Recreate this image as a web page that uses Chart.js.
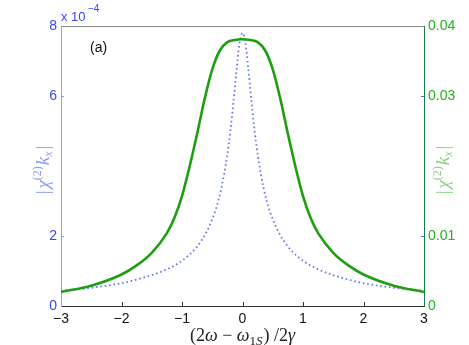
<!DOCTYPE html>
<html>
<head>
<meta charset="utf-8">
<script src="https://cdn.jsdelivr.net/npm/chart.js@4.4.0/dist/chart.umd.min.js"></script>
<style>
    html, body { margin: 0; padding: 0; background: #fff; }
    #wrap { width: 469px; height: 345px; }
</style>
</head>
<body>
<div id="wrap"><canvas id="chiChart" width="469" height="345"></canvas></div>
<script>
const xTicks = [-3, -2, -1, 0, 1, 2, 3];
const leftTicks = [0, 2, 6, 8];
const rightTicks = [0, 0.01, 0.03, 0.04];

// solid green curve, right axis
const detuningGreen = [-3, -2.5, -2, -1.75, -1.5, -1.25, -1.125, -1, -0.875, -0.75, -0.625, -0.5, -0.375, -0.25, -0.125, 0,
                       0.125, 0.25, 0.375, 0.5, 0.625, 0.75, 0.875, 1, 1.125, 1.25, 1.5, 1.75, 2, 2.5, 3];
const chiGreen = [0.0020, 0.0029, 0.0045, 0.0058, 0.0076, 0.0104, 0.0126, 0.0157, 0.0199, 0.0246, 0.0296, 0.0338, 0.0365, 0.0377, 0.0380, 0.0381,
                  0.0380, 0.0377, 0.0365, 0.0338, 0.0296, 0.0246, 0.0199, 0.0157, 0.0126, 0.0104, 0.0076, 0.0058, 0.0045, 0.0029, 0.0020];

// dotted blue curve, left axis (units of 1e-4)
const detuningBlue = [-3, -2.5, -2, -1.7, -1.37, -1.1, -0.9, -0.75, -0.6, -0.5, -0.4, -0.3, -0.25, -0.2, -0.15, -0.1, -0.05, 0,
                      0.05, 0.1, 0.15, 0.2, 0.25, 0.3, 0.4, 0.5, 0.6, 0.75, 0.9, 1.1, 1.37, 1.7, 2, 2.5, 3];
const chiBlue = [0.44, 0.52, 0.65, 0.78, 0.96, 1.18, 1.43, 1.70, 2.10, 2.48, 3.00, 3.80, 4.34, 5.00, 5.82, 6.70, 7.50, 7.80,
                 7.50, 6.70, 5.82, 5.00, 4.34, 3.80, 3.00, 2.48, 2.10, 1.70, 1.43, 1.18, 0.96, 0.78, 0.65, 0.52, 0.44];

const BLUE_TXT = '#3a46f0';
const BLUE_AXIS = '#8c9cff';
const GREEN_TXT = '#28b01e';
const GREEN_LINE = '#1f9e12';
const SANS = '"Liberation Sans", Arial, sans-serif';
const SERIF = '"Liberation Serif", "DejaVu Serif", serif';

function toPoints(xs, ys) {
    return xs.map((x, i) => ({ x: x, y: ys[i] }));
}

function drawRich(ctx, parts, cx, cy, angle) {
    ctx.save();
    ctx.translate(cx, cy);
    ctx.rotate(angle);
    let total = 0;
    parts.forEach(p => {
        ctx.font = p.font;
        p.w = ctx.measureText(p.t).width + (p.gap || 0);
        total += p.w;
    });
    let x = -total / 2;
    ctx.textAlign = 'left';
    ctx.textBaseline = 'alphabetic';
    parts.forEach(p => {
        ctx.font = p.font;
        ctx.fillStyle = p.color;
        ctx.fillText(p.t, x, p.dy || 0);
        x += p.w;
    });
    ctx.restore();
}

function chiLabel(color) {
    return [
        { t: '|', font: `19px ${SERIF}`, color, gap: 2 },
        { t: 'χ', font: `italic 19px ${SERIF}`, color },
        { t: '(2)', font: `12px ${SERIF}`, color, dy: -8, gap: 1 },
        { t: 'k', font: `italic 19px ${SERIF}`, color },
        { t: 'x', font: `italic 12px ${SERIF}`, color, dy: 3, gap: 2 },
        { t: '|', font: `19px ${SERIF}`, color }
    ];
}

const extrasPlugin = {
    id: 'extras',
    afterDraw(chart) {
        const { ctx, chartArea: a, scales } = chart;
        ctx.save();

        // top frame line
        ctx.strokeStyle = '#8a8a8a';
        ctx.lineWidth = 1;
        ctx.beginPath();
        ctx.moveTo(a.left, a.top + 0.5);
        ctx.lineTo(a.right, a.top + 0.5);
        ctx.stroke();

        // inward tick marks
        ctx.strokeStyle = '#333';
        xTicks.slice(1, -1).forEach(v => {
            const px = Math.round(scales.x.getPixelForValue(v)) + 0.5;
            ctx.beginPath();
            ctx.moveTo(px, a.bottom);
            ctx.lineTo(px, a.bottom - 4);
            ctx.stroke();
        });
        ctx.strokeStyle = BLUE_AXIS;
        leftTicks.slice(1, -1).forEach(v => {
            const py = Math.round(scales.y.getPixelForValue(v)) + 0.5;
            ctx.beginPath();
            ctx.moveTo(a.left, py);
            ctx.lineTo(a.left + 3, py);
            ctx.stroke();
        });
        ctx.strokeStyle = '#4a6ae0';
        rightTicks.slice(1, -1).forEach(v => {
            const py = Math.round(scales.y2.getPixelForValue(v)) + 0.5;
            ctx.beginPath();
            ctx.moveTo(a.right, py);
            ctx.lineTo(a.right - 3, py);
            ctx.stroke();
        });

        // axis titles
        const midY = (a.top + a.bottom) / 2 + 4;
        drawRich(ctx, chiLabel('#8d9df0'), 49, midY, -Math.PI / 2);
        drawRich(ctx, chiLabel('#8fd08a'), 449, midY, -Math.PI / 2);

        const xc = (a.left + a.right) / 2;
        const xf = `18px ${SERIF}`, xi = `italic 18px ${SERIF}`;
        drawRich(ctx, [
            { t: '(2', font: xf, color: '#222' },
            { t: 'ω', font: xi, color: '#222' },
            { t: ' − ', font: xf, color: '#222' },
            { t: 'ω', font: xi, color: '#222' },
            { t: '1', font: `13px ${SERIF}`, color: '#222', dy: 4 },
            { t: 'S', font: `italic 13px ${SERIF}`, color: '#222', dy: 4, gap: 1 },
            { t: ') /2', font: xf, color: '#222' },
            { t: 'γ', font: xi, color: '#222' }
        ], xc, 341, 0);

        // exponent of left axis
        ctx.fillStyle = BLUE_TXT;
        ctx.textAlign = 'left';
        ctx.textBaseline = 'alphabetic';
        ctx.font = `13px ${SANS}`;
        ctx.fillText('x 10', 61, 21);
        ctx.font = `10px ${SANS}`;
        ctx.fillText('−4', 88, 12);

        // panel tag
        ctx.fillStyle = '#111';
        ctx.font = `14px ${SANS}`;
        ctx.fillText('(a)', 90, 52);

        ctx.restore();
    }
};

new Chart(document.getElementById('chiChart'), {
    type: 'line',
    data: {
        datasets: [
            {
                label: 'green',
                data: toPoints(detuningGreen, chiGreen),
                yAxisID: 'y2',
                borderColor: GREEN_LINE,
                borderWidth: 2.6,
                pointRadius: 0,
                cubicInterpolationMode: 'monotone',
                fill: false
            },
            {
                label: 'blue',
                data: toPoints(detuningBlue, chiBlue),
                yAxisID: 'y',
                borderColor: '#6678f2',
                borderWidth: 1.8,
                borderDash: [1.6, 2.8],
                pointRadius: 0,
                cubicInterpolationMode: 'monotone',
                fill: false
            }
        ]
    },
    options: {
        responsive: false,
        animation: false,
        devicePixelRatio: 1,
        layout: { padding: { top: 26, left: 0, right: 0, bottom: 0 } },
        plugins: {
            legend: { display: false },
            tooltip: { enabled: false }
        },
        scales: {
            x: {
                type: 'linear',
                position: 'bottom',
                min: -3,
                max: 3,
                afterBuildTicks: s => { s.ticks = xTicks.map(v => ({ value: v })); },
                afterFit: s => { s.height = 39; },
                grid: { display: false, drawTicks: false },
                border: { display: true, color: '#333', width: 1 },
                ticks: {
                    color: '#111',
                    padding: 5,
                    font: { family: SANS, size: 14 },
                    callback: v => String(v).replace('-', '−')
                }
            },
            y: {
                type: 'linear',
                position: 'left',
                min: 0,
                max: 8,
                afterBuildTicks: s => { s.ticks = leftTicks.map(v => ({ value: v })); },
                afterFit: s => { s.width = 61; },
                grid: { display: false, drawTicks: false },
                border: { display: true, color: BLUE_AXIS, width: 1 },
                ticks: {
                    color: BLUE_TXT,
                    padding: 4,
                    font: { family: SANS, size: 14 }
                }
            },
            y2: {
                type: 'linear',
                position: 'right',
                min: 0,
                max: 0.04,
                afterBuildTicks: s => { s.ticks = rightTicks.map(v => ({ value: v })); },
                afterFit: s => { s.width = 45; },
                grid: { display: false, drawTicks: false },
                border: { display: true, color: '#177a48', width: 1 },
                ticks: {
                    color: GREEN_TXT,
                    padding: 4,
                    font: { family: SANS, size: 14 },
                    callback: v => String(v)
                }
            }
        }
    },
    plugins: [extrasPlugin]
});
</script>
</body>
</html>
